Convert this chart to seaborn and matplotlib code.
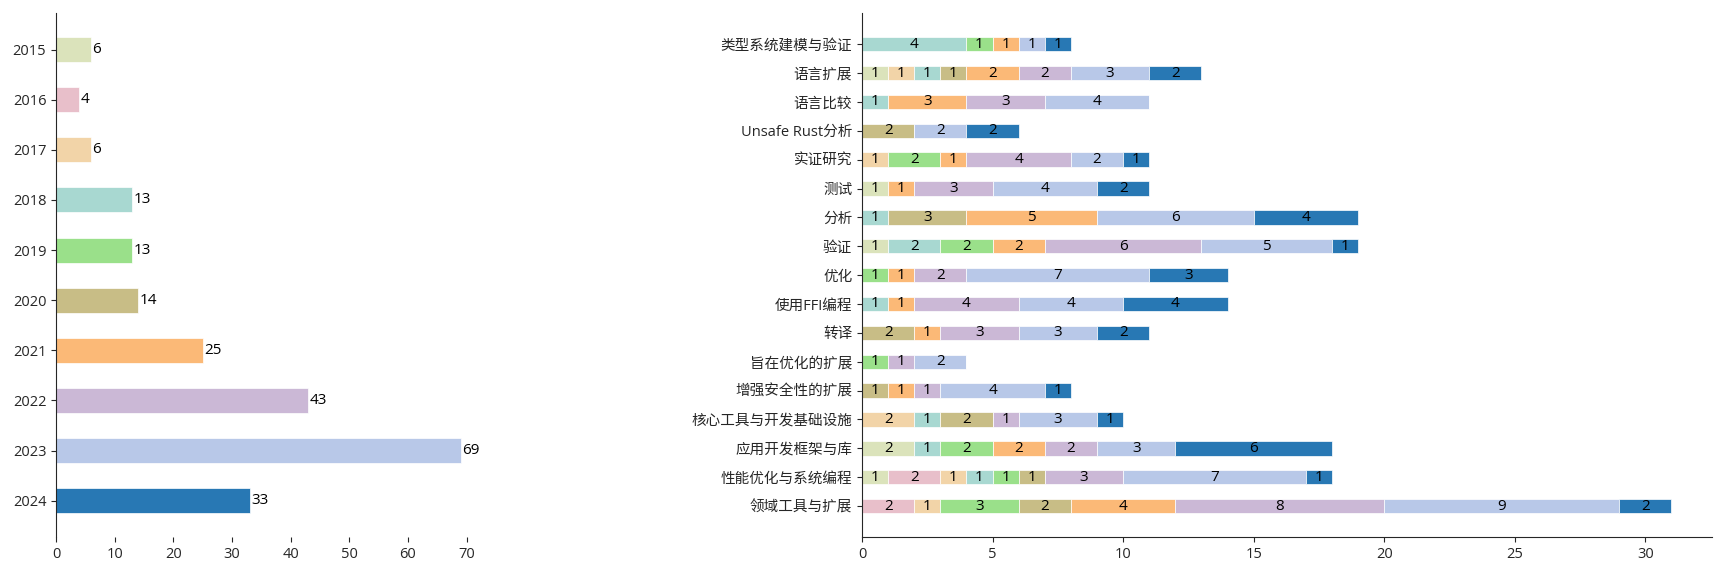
import numpy as np
import pandas as pd
import seaborn as sns
import matplotlib
matplotlib.use('Agg')
import matplotlib.pyplot as plt

# ---------------- datos ----------------
years = ['2015', '2016', '2017', '2018', '2019', '2020', '2021', '2022', '2023', '2024']
year_totals = [6, 4, 6, 13, 13, 14, 25, 43, 69, 33]
year_colors = ['#dbe3bb', '#e8bfca', '#f2d4a8', '#a8d8d1', '#9ae08a',
               '#c8bd86', '#fbb977', '#cbb8d6', '#b8c8e8', '#2878b4']

categories = ['类型系统建模与验证', '语言扩展', '语言比较', 'Unsafe Rust分析', '实证研究',
              '测试', '分析', '验证', '优化', '使用FFI编程', '转译', '旨在优化的扩展',
              '增强安全性的扩展', '核心工具与开发基础设施', '应用开发框架与库',
              '性能优化与系统编程', '领域工具与扩展']

# conteos por categoria, columnas = 2015..2024
counts = [
    [0, 0, 0, 4, 1, 0, 1, 0, 1, 1],
    [1, 0, 1, 1, 0, 1, 2, 2, 3, 2],
    [0, 0, 0, 1, 0, 0, 3, 3, 4, 0],
    [0, 0, 0, 0, 0, 2, 0, 0, 2, 2],
    [0, 0, 1, 0, 2, 0, 1, 4, 2, 1],
    [1, 0, 0, 0, 0, 0, 1, 3, 4, 2],
    [0, 0, 0, 1, 0, 3, 5, 0, 6, 4],
    [1, 0, 0, 2, 2, 0, 2, 6, 5, 1],
    [0, 0, 0, 0, 1, 0, 1, 2, 7, 3],
    [0, 0, 0, 1, 0, 0, 1, 4, 4, 4],
    [0, 0, 0, 0, 0, 2, 1, 3, 3, 2],
    [0, 0, 0, 0, 1, 0, 0, 1, 2, 0],
    [0, 0, 0, 0, 0, 1, 1, 1, 4, 1],
    [0, 0, 2, 1, 0, 2, 0, 1, 3, 1],
    [2, 0, 0, 1, 2, 0, 2, 2, 3, 6],
    [1, 2, 1, 1, 1, 1, 0, 3, 7, 1],
    [0, 2, 1, 0, 3, 2, 4, 8, 9, 2],
]

sns.set_style('ticks')
plt.rcParams['font.family'] = ['Open Sans', 'Noto Sans CJK SC', 'DejaVu Sans']
plt.rcParams['font.size'] = 10
plt.rcParams['xtick.labelsize'] = 10.5
plt.rcParams['ytick.labelsize'] = 10.5

fig = plt.figure(figsize=(17.23, 5.72), dpi=100)
ax1 = fig.add_axes([0.0325, 0.061, 0.2466, 0.916])
ax2 = fig.add_axes([0.5003, 0.061, 0.4933, 0.916])

# ---------------- grafico izquierdo ----------------
df_year = pd.DataFrame({'year': years, 'total': year_totals})
sns.barplot(data=df_year, x='total', y='year', hue='year', palette=year_colors,
            legend=False, width=0.5, orient='h', ax=ax1, saturation=1,
            edgecolor='white', linewidth=0.5)
for c in ax1.containers:
    ax1.bar_label(c, padding=1, fontsize=11, color='black')
ax1.set_ylim(9.725, -0.725)
ax1.set_xlim(0, max(year_totals) * 1.05)
ax1.set_xlabel('')
ax1.set_ylabel('')
sns.despine(ax=ax1, top=True, right=True, bottom=True)

# ---------------- grafico derecho ----------------
rows = []
for cat, vals in zip(categories, counts):
    for y, v in zip(years, vals):
        rows.append({'categoria': cat, 'anio': y, 'n': v})
df = pd.DataFrame(rows)

sns.histplot(data=df, y='categoria', hue='anio', weights='n', multiple='stack',
             discrete=True, shrink=0.5, hue_order=years[::-1],
             palette=dict(zip(years, year_colors)), alpha=1,
             edgecolor='white', linewidth=0.5, legend=False, ax=ax2)
for c in ax2.containers:
    labs = [str(int(round(p.get_width()))) if p.get_width() > 0 else '' for p in c]
    ax2.bar_label(c, labels=labs, label_type='center', fontsize=11, color='black')
n = len(categories)
ax2.set_ylim(n - 1 + 0.25 + 0.825, -0.25 - 0.825)
tot = np.array(counts).sum(axis=1)
ax2.set_xlim(0, tot.max() * 1.05)
ax2.set_xlabel('')
ax2.set_ylabel('')
sns.despine(ax=ax2, top=True, right=True)

fig.savefig('out.png', dpi=100)
